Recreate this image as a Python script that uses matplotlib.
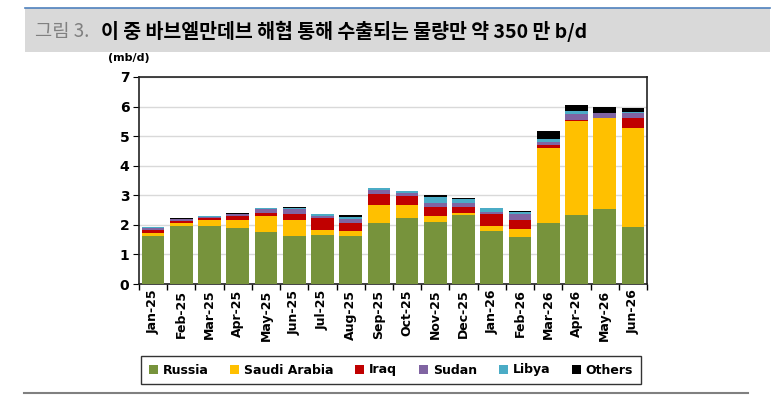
import numpy as np
import matplotlib.pyplot as plt
from matplotlib.patches import Rectangle
from matplotlib.lines import Line2D

plt.rcParams['font.family'] = ['Noto Sans CJK KR', 'DejaVu Sans']

months = ['Jan-25', 'Feb-25', 'Mar-25', 'Apr-25', 'May-25', 'Jun-25', 'Jul-25', 'Aug-25',
          'Sep-25', 'Oct-25', 'Nov-25', 'Dec-25', 'Jan-26', 'Feb-26', 'Mar-26', 'Apr-26',
          'May-26', 'Jun-26']
russia = [1.62, 1.96, 1.96, 1.88, 1.76, 1.62, 1.66, 1.62, 2.05, 2.23, 2.08, 2.32, 1.80, 1.60, 2.05, 2.34, 2.55, 1.94]
saudi = [0.10, 0.10, 0.22, 0.30, 0.53, 0.56, 0.16, 0.18, 0.63, 0.43, 0.21, 0.08, 0.17, 0.26, 2.56, 3.17, 3.05, 3.35]
iraq = [0.10, 0.08, 0.05, 0.13, 0.11, 0.20, 0.41, 0.26, 0.36, 0.31, 0.31, 0.21, 0.39, 0.30, 0.10, 0.05, 0.01, 0.34]
sudan = [0.08, 0.05, 0.05, 0.05, 0.13, 0.17, 0.08, 0.14, 0.14, 0.12, 0.13, 0.12, 0.08, 0.20, 0.09, 0.18, 0.16, 0.14]
libya = [0.02, 0.02, 0.03, 0.01, 0.03, 0.02, 0.06, 0.06, 0.07, 0.07, 0.22, 0.14, 0.13, 0.07, 0.10, 0.12, 0.02, 0.05]
others = [0.00, 0.02, 0.00, 0.03, 0.02, 0.03, 0.01, 0.07, 0.01, 0.00, 0.05, 0.03, 0.00, 0.05, 0.28, 0.20, 0.19, 0.14]

series = [('Russia', russia, '#77933C'), ('Saudi Arabia', saudi, '#FFC000'),
          ('Iraq', iraq, '#C00000'), ('Sudan', sudan, '#8064A2'),
          ('Libya', libya, '#4BACC6'), ('Others', others, '#000000')]

fig = plt.figure(figsize=(7.77, 3.96), dpi=100)

# title band
fig.patches.append(Rectangle((25/777, 1-52/396), 745/777, 44/396, transform=fig.transFigure,
                             facecolor='#D9D9D9', edgecolor='none', zorder=0))
fig.add_artist(Line2D([25/777, 770/777], [1-8/396, 1-8/396], color='#4F81BD', lw=1.2))
fig.add_artist(Line2D([24/777, 748/777], [1-393/396, 1-393/396], color='#808080', lw=1.5))
fig.text(35/777, 1-31/396, '그림 3.', color='#808080', fontsize=13.5, va='center')
fig.text(101/777, 1-31/396, '이 중 바브엘만데브 해협 통해 수출되는 물량만 약 350 만 b/d',
         color='black', fontsize=14, fontweight='bold', va='center')

ax = fig.add_axes([139/777, 1-284/396, 508/777, 207/396])
x = np.arange(len(months))
bottom = np.zeros(len(months))
for name, vals, col in series:
    ax.bar(x, vals, 0.8, bottom=bottom, color=col, label=name, zorder=3)
    bottom += np.array(vals)

ax.set_xlim(-0.5, len(months) - 0.5)
ax.set_ylim(0, 7)
ax.set_yticks(range(0, 8))
ax.set_xticks(x)
ax.set_xticklabels(months, rotation=90, fontsize=9, fontweight='bold', family=['DejaVu Sans'])
ax.set_xticks(np.arange(-0.5, len(months), 1), minor=True)
ax.tick_params(axis='x', which='major', length=0, pad=4)
ax.tick_params(axis='x', which='minor', length=4, direction='out', width=1)
ax.tick_params(axis='y', length=4, direction='out', labelsize=10, pad=3)
for t in ax.get_yticklabels():
    t.set_fontweight('bold')
    t.set_family(['DejaVu Sans'])
ax.grid(axis='y', color='#D9D9D9', lw=1, zorder=0)
for s in ax.spines.values():
    s.set_linewidth(1.2)
    s.set_color('#222222')

fig.text(108/777, 1-58/396, '(mb/d)', fontsize=8, fontweight='bold', va='center',
         family=['DejaVu Sans'])

leg = fig.legend(loc='center', bbox_to_anchor=(391/777, 1-370/396), ncol=6, frameon=True,
                 handlelength=0.7, handleheight=0.7, handletextpad=0.4,
                 columnspacing=1.75, borderpad=0.6, fancybox=False,
                 prop={'weight': 'bold', 'family': ['DejaVu Sans'], 'size': 9})
leg.get_frame().set_edgecolor('black')
leg.get_frame().set_linewidth(1)

fig.savefig('out.png', dpi=100)
